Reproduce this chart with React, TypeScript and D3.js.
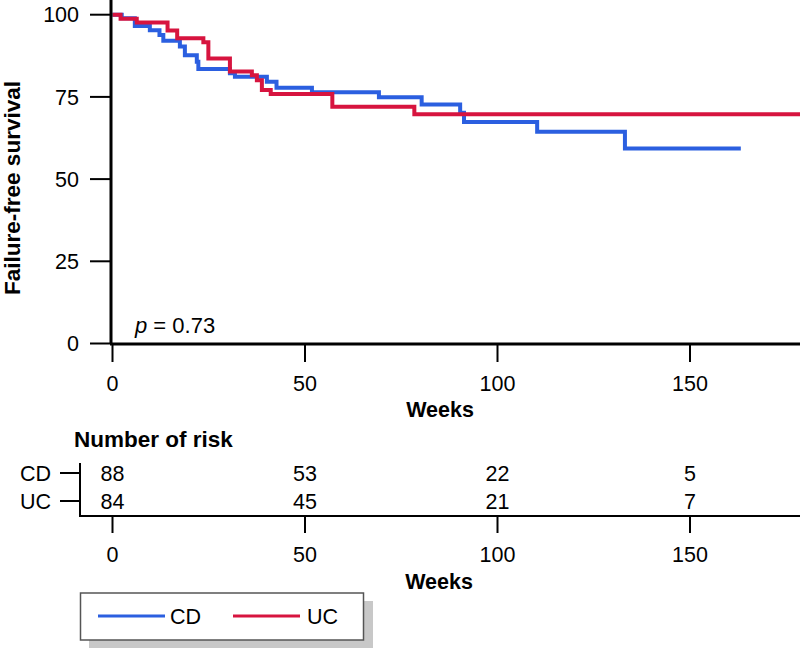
import * as d3 from "d3";
import React from "react";

// Kaplan-Meier steps (weeks, % failure-free)
const cdWeeks = [0, 2.4, 5.8, 9.7, 12.2, 13.2, 17.5, 18.8, 21.9, 22.3, 30.5, 31.8, 40.1, 42.6, 51.8, 69.2, 80.3, 90.3, 91.3, 110.3, 133.1, 163.2];
const cdSurv = [100, 98.9, 96.6, 95.3, 93.8, 92.1, 90.3, 87.7, 85.7, 83.5, 82.2, 81.1, 79.6, 77.8, 76.4, 74.9, 72.7, 70.2, 67.4, 64.4, 59.3, 59.3];

const ucWeeks = [0, 2.1, 6.3, 14.3, 16.8, 23.6, 24.9, 30.5, 36.2, 37.5, 38.8, 41.1, 57.1, 78.4, 178.6];
const ucSurv = [100, 98.8, 97.6, 95.2, 92.8, 91.6, 86.7, 82.7, 81.6, 80.1, 77.1, 75.9, 72.0, 69.7, 69.7];

const groups = ["CD", "UC"];
const colors = ["#2b5fe0", "#d7143f"];
const riskTimes = [0, 50, 100, 150];
const cdRisk = [88, 53, 22, 5];
const ucRisk = [84, 45, 21, 7];
const yTicks = [0, 25, 50, 75, 100];

const font = "'Liberation Sans', Arial, Helvetica, sans-serif";

export default function App() {
  const width = 800;
  const height = 649;

  const x = d3.scaleLinear().domain([0, 100]).range([112.5, 497.5]);
  const y = d3.scaleLinear().domain([0, 100]).range([343.5, 14.7]);

  const line = d3
    .line<[number, number]>()
    .x((d) => x(d[0]))
    .y((d) => y(d[1]))
    .curve(d3.curveStepAfter);

  const cdPts = cdWeeks.map((w, i) => [w, cdSurv[i]] as [number, number]);
  const ucPts = ucWeeks.map((w, i) => [w, ucSurv[i]] as [number, number]);

  const axisY = 344;
  const riskAxisY = 516;
  const rowY = [473, 501];
  const risks = [cdRisk, ucRisk];

  return (
    <svg
      width={width}
      height={height}
      style={{ position: "absolute", left: 0, top: 0, background: "#fff" }}
      fontFamily={font}
    >
      {/* survival curves */}
      <path d={line(cdPts) || ""} fill="none" stroke={colors[0]} strokeWidth={4} />
      <path d={line(ucPts) || ""} fill="none" stroke={colors[1]} strokeWidth={4} />

      {/* y axis */}
      <line x1={111} x2={111} y1={0} y2={axisY} stroke="#000" strokeWidth={3} />
      {yTicks.map((t) => (
        <g key={t}>
          <line x1={90} x2={111} y1={y(t)} y2={y(t)} stroke="#000" strokeWidth={2} />
          <text x={79} y={y(t)} dy="0.36em" textAnchor="end" fontSize={21.5}>
            {t}
          </text>
        </g>
      ))}
      <text
        transform={`translate(20,188) rotate(-90)`}
        textAnchor="middle"
        fontSize={22.5}
        fontWeight="bold"
      >
        Failure-free survival
      </text>

      {/* x axis */}
      <line x1={110} x2={800} y1={axisY} y2={axisY} stroke="#000" strokeWidth={3} />
      {riskTimes.map((t) => (
        <g key={t}>
          <line x1={x(t)} x2={x(t)} y1={axisY} y2={362} stroke="#000" strokeWidth={2} />
          <text x={x(t)} y={391} textAnchor="middle" fontSize={21.5}>
            {t}
          </text>
        </g>
      ))}
      <text x={440} y={417} textAnchor="middle" fontSize={21.5} fontWeight="bold">
        Weeks
      </text>

      <text x={135} y={333} fontSize={22}>
        <tspan fontStyle="italic">p</tspan> = 0.73
      </text>

      {/* number at risk table */}
      <text x={74} y={447} fontSize={22.5} fontWeight="bold">
        Number of risk
      </text>
      <line x1={80} x2={80} y1={463} y2={riskAxisY} stroke="#000" strokeWidth={2} />
      <line x1={79} x2={800} y1={riskAxisY} y2={riskAxisY} stroke="#000" strokeWidth={2} />
      {groups.map((g, gi) => (
        <g key={g}>
          <line x1={60} x2={80} y1={rowY[gi]} y2={rowY[gi]} stroke="#000" strokeWidth={2} />
          <text x={51} y={rowY[gi]} dy="0.36em" textAnchor="end" fontSize={21.5}>
            {g}
          </text>
          {risks[gi].map((n, i) => (
            <text key={i} x={x(riskTimes[i])} y={rowY[gi]} dy="0.36em" textAnchor="middle" fontSize={21.5}>
              {n}
            </text>
          ))}
        </g>
      ))}
      {riskTimes.map((t) => (
        <g key={"r" + t}>
          <line x1={x(t)} x2={x(t)} y1={riskAxisY} y2={533} stroke="#000" strokeWidth={2} />
          <text x={x(t)} y={562} textAnchor="middle" fontSize={21.5}>
            {t}
          </text>
        </g>
      ))}
      <text x={439} y={589} textAnchor="middle" fontSize={21.5} fontWeight="bold">
        Weeks
      </text>

      {/* legend */}
      <rect x={89} y={601} width={284} height={47} fill="#c8c8c8" />
      <rect x={80.5} y={593} width={283} height={47} fill="#fff" stroke="#555" strokeWidth={1.5} />
      {groups.map((g, gi) => (
        <g key={"l" + g}>
          <line x1={98 + gi * 135} x2={165 + gi * 135} y1={616} y2={616} stroke={colors[gi]} strokeWidth={3} />
          <text x={170 + gi * 137} y={616} dy="0.36em" fontSize={21.5}>
            {g}
          </text>
        </g>
      ))}
    </svg>
  );
}
